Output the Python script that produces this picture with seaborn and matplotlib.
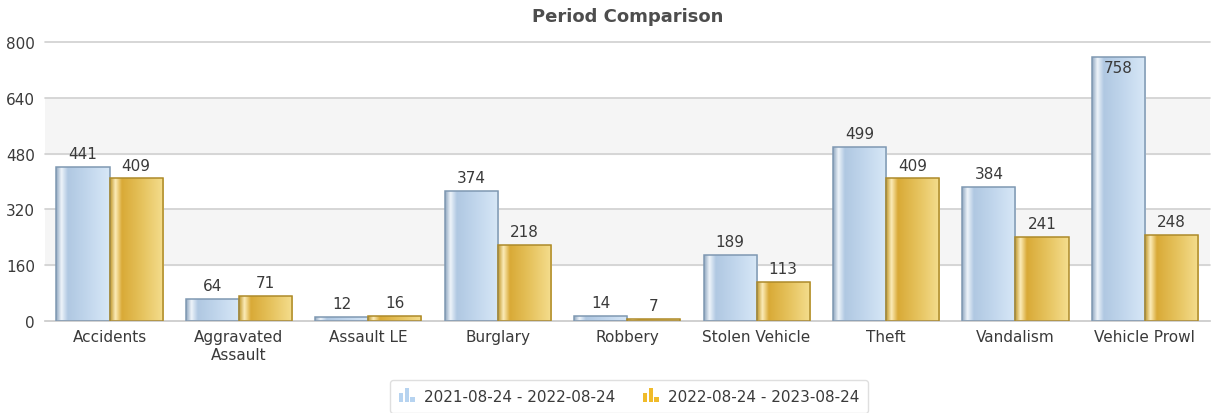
import numpy as np
import pandas as pd
import seaborn as sns
import matplotlib.pyplot as plt
from matplotlib.colors import LinearSegmentedColormap
from matplotlib.patches import Rectangle
from matplotlib.legend_handler import HandlerBase

# DATA
categories = ["Accidents", "Aggravated\nAssault", "Assault LE", "Burglary", "Robbery",
              "Stolen Vehicle", "Theft", "Vandalism", "Vehicle Prowl"]
periods = ["2021-08-24 - 2022-08-24", "2022-08-24 - 2023-08-24"]
values_prev = [441, 64, 12, 374, 14, 189, 499, 384, 758]
values_curr = [409, 71, 16, 218, 7, 113, 409, 241, 248]
y_ticks = [0, 160, 320, 480, 640, 800]

df = pd.DataFrame({
    "category": categories * 2,
    "period": [periods[0]] * len(categories) + [periods[1]] * len(categories),
    "count": values_prev + values_curr,
})

# STYLE
blue_stops = ["#8ea6bf", "#eef4fa", "#b0c8e2", "#c2d7ed", "#d8e8f7"]
gold_stops = ["#bf972b", "#fcecb8", "#d9aa37", "#e6c35e", "#f5de8f"]
edge_colors = ["#7f98b2", "#ad8a2a"]
icon_colors = ["#b6d3f0", "#f0bb2a"]
text_color = "#3a3a3a"
fs = 11

sns.set_theme(style="white")
plt.rcParams['font.family'] = ['DejaVu Sans']

fig, ax = plt.subplots(figsize=(12.12, 4.14), dpi=100)
fig.subplots_adjust(left=0.037, right=0.998, bottom=0.222, top=0.896)

sns.barplot(data=df, x="category", y="count", hue="period", hue_order=periods,
            palette=["#c4d9ee", "#e8c662"], width=0.82, gap=0, legend=False, ax=ax,
            saturation=1)

# BANDS AND GRID
ax.axhspan(160, 320, color="#f5f5f5", zorder=0)
ax.axhspan(480, 640, color="#f5f5f5", zorder=0)
for t in y_ticks[1:]:
    ax.axhline(t, color="#d0d0d0", lw=1.2, zorder=0.5, clip_on=False)

xlim = ax.get_xlim()
ymax = y_ticks[-1]

# GRADIENT BARS
grad = np.linspace(0, 1, 256)[None, :]
for cont, stops, edge in zip(ax.containers, [blue_stops, gold_stops], edge_colors):
    cmap = LinearSegmentedColormap.from_list("g", list(zip([0, 0.1, 0.22, 0.6, 1], stops)))
    for bar in cont:
        x0, w, h = bar.get_x(), bar.get_width(), bar.get_height()
        im = ax.imshow(grad, cmap=cmap, extent=[x0, x0 + w, 0, h], aspect="auto",
                       zorder=2, interpolation="bilinear")
        im.set_clip_path(bar)
        bar.set_facecolor("none")
        bar.set_edgecolor(edge)
        bar.set_linewidth(1.1)
        bar.set_zorder(3)
        label_y = h + 17
        va = "bottom"
        if label_y + 40 > ymax:
            label_y = h - 30
            va = "center"
        ax.text(x0 + w / 2, label_y, str(int(h)), ha="center", va=va,
                fontsize=fs, color=text_color, zorder=4)

ax.set_xlim(xlim)
ax.set_ylim(0, ymax)
ax.set_yticks(y_ticks)
ax.set_xlabel("")
ax.set_ylabel("")
ax.tick_params(axis="both", labelsize=fs, colors=text_color, length=0)
ax.tick_params(axis="x", pad=6)
ax.tick_params(axis="y", pad=7)
sns.despine(ax=ax, left=True, top=True, right=True)
ax.spines["bottom"].set_color("#c8c8c8")
ax.spines["bottom"].set_linewidth(1.2)

ax.set_title("Period Comparison", fontsize=13, fontweight="bold", color="#4d4d4d", pad=15)


# LEGEND WITH SMALL BAR ICONS
class BarIconHandler(HandlerBase):
    def create_artists(self, legend, orig_handle, xdescent, ydescent, width, height, fontsize, trans):
        col = orig_handle.get_facecolor()
        bw = width / 3.6
        heights = [0.7, 1.15, 0.45]
        arts = []
        for i, hh in enumerate(heights):
            r = Rectangle((-xdescent + i * bw * 1.25, -ydescent - 1), bw, height * hh * 1.2,
                          facecolor=col, edgecolor="none", transform=trans)
            arts.append(r)
        return arts


handles = [Rectangle((0, 0), 1, 1, facecolor=c) for c in icon_colors]
leg = fig.legend(handles, periods, loc="center", bbox_to_anchor=(0.519, 0.04), ncol=2,
                 handler_map={Rectangle: BarIconHandler()}, fontsize=fs, frameon=True,
                 handlelength=1.1, handletextpad=0.55, columnspacing=1.8,
                 borderpad=0.6, fancybox=True, shadow=False)
leg.get_frame().set_edgecolor("#d8d8d8")
leg.get_frame().set_linewidth(1)
for t in leg.get_texts():
    t.set_color(text_color)

fig.savefig("out.png", dpi=100)
